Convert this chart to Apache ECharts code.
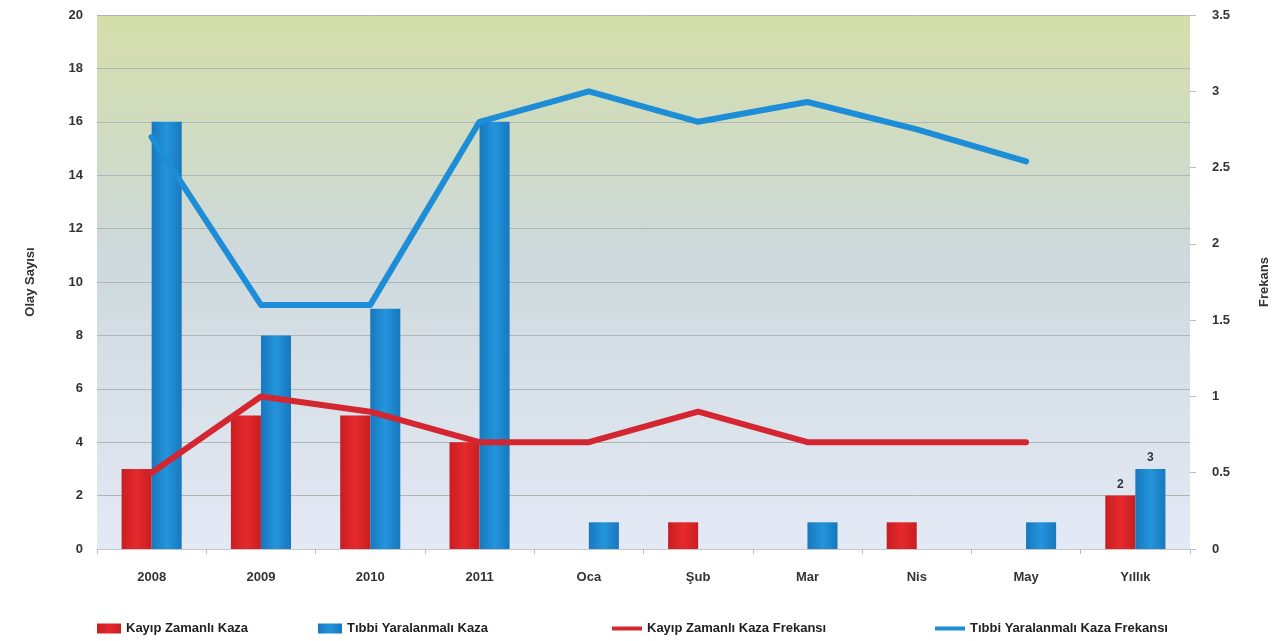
<!DOCTYPE html>
<html><head><meta charset="utf-8">
<script src="https://cdn.jsdelivr.net/npm/echarts@6/dist/echarts.min.js"></script>
<style>html,body{margin:0;padding:0;background:#fff}#c{width:1284px;height:641px}</style>
</head><body><div id="c"></div>
<script>
const categories = ['2008','2009','2010','2011','Oca','Şub','Mar','Nis','May','Yıllık'];
const kayipKaza = [3,5,5,4,0,1,0,1,0,2];
const tibbiKaza = [16,8,9,16,1,0,1,0,1,3];
const kayipFrekans = [0.5,1.0,0.9,0.7,0.7,0.9,0.7,0.7,0.7,null];
const tibbiFrekans = [2.7,1.6,1.6,2.8,3.0,2.8,2.93,2.75,2.54,null];
const leftTicks = {min:0,max:20,interval:2};
const rightTicks = {min:0,max:3.5,interval:0.5};
const names = ['Kayıp Zamanlı Kaza','Tıbbi Yaralanmalı Kaza','Kayıp Zamanlı Kaza Frekansı','Tıbbi Yaralanmalı Kaza Frekansı'];

const BLUE='#1c8dd6';
const lastLabel = (arr)=>arr.map((v,i)=> i===arr.length-1 ? {value:v,label:{show:true,position:'top',color:'#333',fontSize:12,fontWeight:'bold'}} : v);
const legendFont={fontFamily:'Liberation Sans',fontSize:13,fontWeight:'bold',color:'#222'};
const chart=echarts.init(document.getElementById('c'));
chart.setOption({
  animation:false,
  textStyle:{fontFamily:'Liberation Sans'},
  grid:{left:97,right:94,top:15,bottom:92,show:true,borderWidth:0,
    backgroundColor:new echarts.graphic.LinearGradient(0,0,0,1,[
      {offset:0,color:'#d4dea9'},{offset:0.45,color:'#cdd9dc'},{offset:1,color:'#e4e9f6'}])},
  legend:[
    {left:97,bottom:6,padding:0,data:[{name:names[0],icon:'rect'}],itemWidth:24,itemHeight:10,textStyle:legendFont},
    {left:318,bottom:6,padding:0,data:[{name:names[1],icon:'rect'}],itemWidth:24,itemHeight:10,textStyle:legendFont},
    {left:612,bottom:6,padding:0,data:[{name:names[2],icon:'rect'}],itemWidth:30,itemHeight:4,textStyle:legendFont},
    {left:935,bottom:6,padding:0,data:[{name:names[3],icon:'rect'}],itemWidth:30,itemHeight:4,textStyle:legendFont}
  ],
  xAxis:{type:'category',data:categories,
    axisLine:{lineStyle:{color:'#c8c8c8'}},axisTick:{show:true,lineStyle:{color:'#bbb'}},
    axisLabel:{color:'#333',fontWeight:'bold',fontSize:13,margin:22}},
  yAxis:[
    {type:'value',...leftTicks,name:'Olay Sayısı',nameLocation:'middle',nameGap:60,nameRotate:90,
     nameTextStyle:{fontWeight:'bold',fontSize:13,color:'#333'},
     axisLabel:{color:'#333',fontWeight:'bold',fontSize:13,margin:14},
     splitLine:{lineStyle:{color:'#aeb6b6',width:1}},axisLine:{show:false},axisTick:{show:false}},
    {type:'value',...rightTicks,name:'Frekans',nameLocation:'middle',nameGap:68,nameRotate:90,
     nameTextStyle:{fontWeight:'bold',fontSize:13,color:'#333'},
     axisLabel:{color:'#333',fontWeight:'bold',fontSize:13,margin:22},
     splitLine:{show:false},axisLine:{show:false},axisTick:{show:true,length:6,lineStyle:{color:'#bbb'}}}
  ],
  series:[
    {name:names[0],type:'bar',data:lastLabel(kayipKaza),barGap:'0%',barCategoryGap:'45%',color:'#de2327',
     itemStyle:{color:new echarts.graphic.LinearGradient(0,0,1,0,[{offset:0,color:'#c81e22'},{offset:0.5,color:'#e6292c'},{offset:1,color:'#c81e22'}])}},
    {name:names[1],type:'bar',data:lastLabel(tibbiKaza),color:'#1b8ad3',
     itemStyle:{color:new echarts.graphic.LinearGradient(0,0,1,0,[{offset:0,color:'#1878bd'},{offset:0.5,color:'#2394dc'},{offset:1,color:'#1878bd'}])}},
    {name:names[2],type:'line',yAxisIndex:1,data:kayipFrekans,symbol:'none',color:'#d42631',
     lineStyle:{width:6,color:'#d42631',cap:'round',join:'round'}},
    {name:names[3],type:'line',yAxisIndex:1,data:tibbiFrekans,symbol:'none',color:BLUE,
     lineStyle:{width:6,color:BLUE,cap:'round',join:'round'}}
  ]
});
</script></body></html>
